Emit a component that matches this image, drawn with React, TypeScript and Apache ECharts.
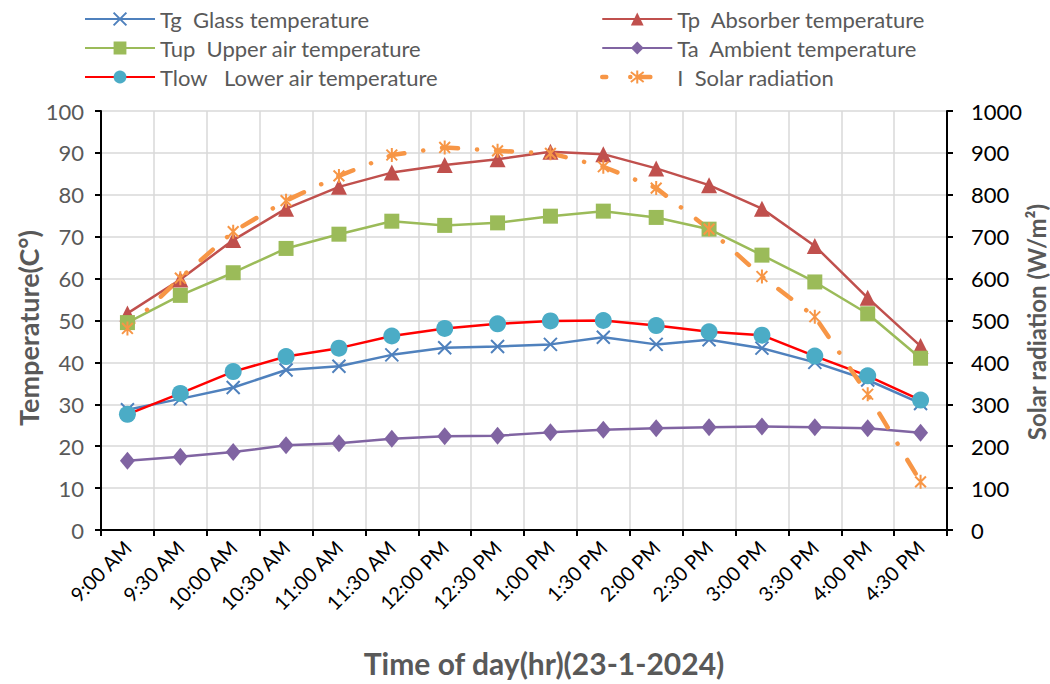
import React, { useEffect, useRef } from "react";
import * as echarts from "echarts";

const categories = ["9:00 AM", "9:30 AM", "10:00 AM", "10:30 AM", "11:00 AM", "11:30 AM", "12:00 PM", "12:30 PM", "1:00 PM", "1:30 PM", "2:00 PM", "2:30 PM", "3:00 PM", "3:30 PM", "4:00 PM", "4:30 PM"];
const tg = [28.7, 31.3, 34.0, 38.2, 39.1, 41.8, 43.5, 43.8, 44.3, 46.0, 44.3, 45.4, 43.4, 40.0, 35.8, 30.2];
const tp = [51.7, 59.8, 69.2, 76.7, 81.9, 85.3, 87.1, 88.5, 90.3, 89.7, 86.3, 82.3, 76.7, 67.8, 55.4, 43.9];
const tup = [49.5, 56.0, 61.4, 67.2, 70.6, 73.7, 72.7, 73.3, 74.9, 76.1, 74.6, 71.8, 65.6, 59.2, 51.6, 41.0];
const ta = [16.5, 17.5, 18.6, 20.2, 20.7, 21.8, 22.4, 22.5, 23.3, 23.9, 24.3, 24.5, 24.7, 24.5, 24.3, 23.2];
const tlow = [27.6, 32.6, 37.8, 41.4, 43.4, 46.3, 48.1, 49.2, 49.9, 50.0, 48.8, 47.3, 46.5, 41.5, 36.8, 31.0];
const solar = [481, 601, 712, 786, 845, 895, 913, 905, 899, 867, 816, 718, 605, 509, 324, 115];

const FONT = "Lato, 'Open Sans', sans-serif";
const X_SYMBOL = "path://M0,0L10,10M10,0L0,10";
const STAR_SYMBOL = "path://M0,0L10,10M10,0L0,10M5,-1.5L5,11.5";
const SOLAR_DASH = [16, 19, 0.1, 19];

export default function App() {
  const ref = useRef<HTMLDivElement>(null);
  useEffect(() => {
    document.body.style.margin = "0";
    const chart = echarts.init(ref.current!, null, { renderer: "svg" });
    const legendText = { fontSize: 22, color: "#595959", fontFamily: FONT };
    chart.setOption({
      animation: false,
      backgroundColor: "#fff",
      grid: { left: 101, right: 103, top: 111, bottom: 154, containLabel: false },
      legend: [
        {
          orient: "vertical", left: 79, top: 3, itemWidth: 70, itemHeight: 16, itemGap: 7,
          textStyle: legendText,
          data: ["Tg  Glass temperature", "Tup  Upper air temperature", "Tlow   Lower air temperature"],
        },
        {
          orient: "vertical", left: 595, top: 3, itemWidth: 70, itemHeight: 16, itemGap: 7,
          textStyle: legendText,
          data: [
            "Tp  Absorber temperature",
            "Ta  Ambient temperature",
            { name: "I  Solar radiation", lineStyle: { width: 4.5, type: [12, 24, 0.1, 8], cap: "round" } },
          ],
        },
      ],
      xAxis: {
        type: "category",
        data: categories,
        boundaryGap: true,
        axisLine: { lineStyle: { color: "#000", width: 2 } },
        axisTick: { show: true, length: 6, alignWithLabel: false, lineStyle: { color: "#000", width: 2 } },
        splitLine: { show: true, interval: 0, lineStyle: { color: "#d9d9d9", width: 1.5 } },
        axisLabel: { rotate: 45, interval: 0, fontSize: 20, color: "#000", margin: 14, fontFamily: FONT },
      },
      yAxis: [
        {
          type: "value", min: 0, max: 100, interval: 10, position: "left",
          axisLine: { show: true, lineStyle: { color: "#000", width: 2 } },
          axisTick: { show: true, length: 6, lineStyle: { color: "#000", width: 2 } },
          splitLine: { show: true, lineStyle: { color: "#d9d9d9", width: 1.5 } },
          axisLabel: { fontSize: 22, color: "#595959", margin: 17, fontFamily: FONT },
        },
        {
          type: "value", min: 0, max: 1000, interval: 100, position: "right",
          axisLine: { show: true, lineStyle: { color: "#000", width: 2 } },
          axisTick: { show: true, length: 6, lineStyle: { color: "#000", width: 2 } },
          splitLine: { show: false },
          axisLabel: { fontSize: 22, color: "#000", margin: 24, fontFamily: FONT, formatter: (v: number) => String(v) },
        },
      ],
      series: [
        {
          name: "Tg  Glass temperature", type: "line", data: tg, yAxisIndex: 0,
          symbol: X_SYMBOL, symbolSize: 13, symbolKeepAspect: true,
          itemStyle: { color: "#4F81BD", borderColor: "#4F81BD", borderWidth: 2 },
          lineStyle: { color: "#4F81BD", width: 2.5 },
        },
        {
          name: "Tp  Absorber temperature", type: "line", data: tp, yAxisIndex: 0,
          symbol: "triangle", symbolSize: 16,
          itemStyle: { color: "#C0504D" },
          lineStyle: { color: "#C0504D", width: 2.5 },
        },
        {
          name: "Tup  Upper air temperature", type: "line", data: tup, yAxisIndex: 0,
          symbol: "rect", symbolSize: 15,
          itemStyle: { color: "#9BBB59" },
          lineStyle: { color: "#9BBB59", width: 2.5 },
        },
        {
          name: "Ta  Ambient temperature", type: "line", data: ta, yAxisIndex: 0,
          symbol: "diamond", symbolSize: [15, 18],
          itemStyle: { color: "#8064A2" },
          lineStyle: { color: "#8064A2", width: 2.5 },
        },
        {
          name: "Tlow   Lower air temperature", type: "line", data: tlow, yAxisIndex: 0,
          symbol: "circle", symbolSize: 17,
          itemStyle: { color: "#4BACC6" },
          lineStyle: { color: "#FF0000", width: 2.5 },
        },
        {
          name: "I  Solar radiation", type: "line", data: solar, yAxisIndex: 1,
          symbol: STAR_SYMBOL, symbolSize: 14, symbolKeepAspect: true,
          itemStyle: { color: "#F79646", borderColor: "#F79646", borderWidth: 2 },
          lineStyle: { color: "#F79646", width: 4.5, type: SOLAR_DASH, dashOffset: 8, cap: "round" },
        },
      ],
      graphic: [
        {
          type: "text", x: 28, y: 328, rotation: Math.PI / 2,
          style: { text: "Temperature(C°)", font: `bold 27px ${FONT}`, fill: "#595959", align: "center", verticalAlign: "middle" },
        },
        {
          type: "text", x: 1036, y: 322, rotation: Math.PI / 2,
          style: { text: "Solar radiation (W/m²)", font: `bold 24px ${FONT}`, fill: "#595959", align: "center", verticalAlign: "middle" },
        },
        {
          type: "text", x: 544, y: 663,
          style: { text: "Time of day(hr)(23-1-2024)", font: `bold 30px ${FONT}`, fill: "#595959", align: "center", verticalAlign: "middle" },
        },
      ],
    });
    return () => chart.dispose();
  }, []);
  return <div ref={ref} style={{ width: 1050, height: 684 }} />;
}
